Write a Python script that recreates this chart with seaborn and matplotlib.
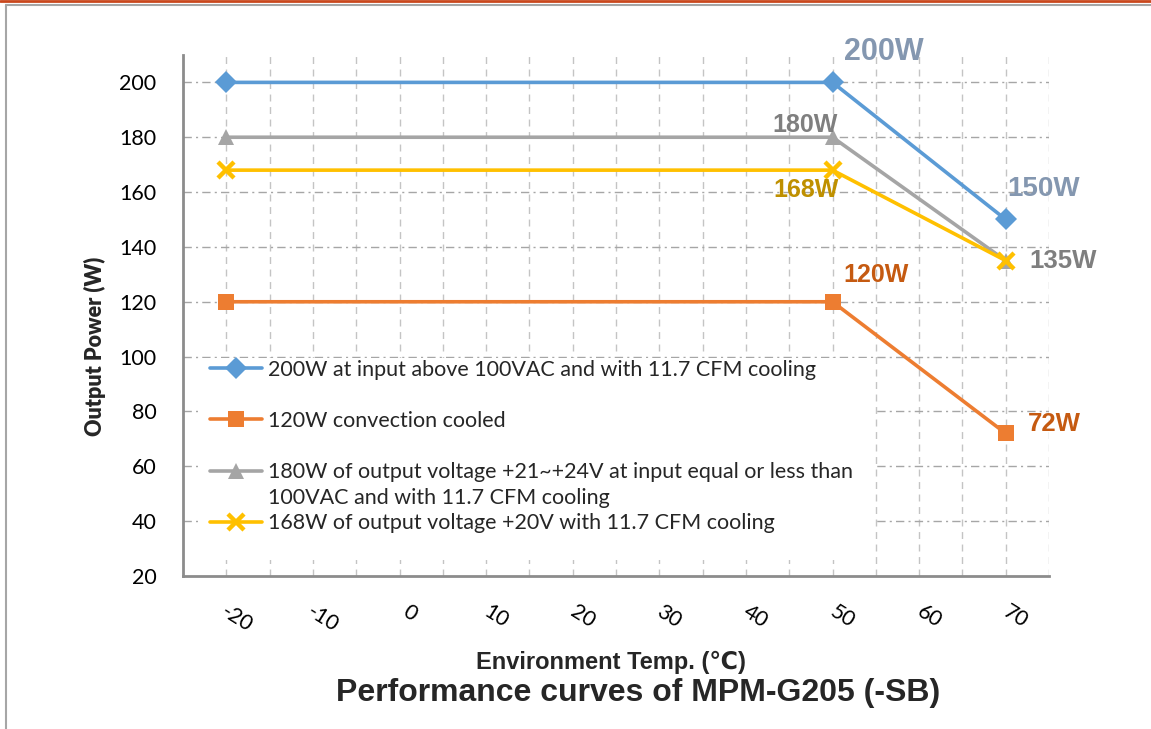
import numpy as np
import pandas as pd
import seaborn as sns
import matplotlib.pyplot as plt
import matplotlib.transforms as mtransforms
from matplotlib.patches import Rectangle

# data
temps = [-20, 50, 70]
p200 = [200, 200, 150]
p120 = [120, 120, 72]
p180 = [180, 180, 135]
p168 = [168, 168, 135]

names = [
    "200W at input above 100VAC and with 11.7 CFM cooling",
    "120W convection cooled",
    "180W of output voltage +21~+24V at input equal or less than",
    "168W of output voltage +20V with 11.7 CFM cooling",
]
extra_line = "100VAC and with 11.7 CFM cooling"
colors = ["#5B9BD5", "#ED7D31", "#A5A5A5", "#FFC000"]
markers = ["D", "s", "^", "X"]
msizes = [11, 11, 11, 12]

xticks = [-20, -10, 0, 10, 20, 30, 40, 50, 60, 70]
yticks = [20, 40, 60, 80, 100, 120, 140, 160, 180, 200]

df = pd.DataFrame({
    "temp": temps * 4,
    "power": p200 + p120 + p180 + p168,
    "curve": np.repeat(names, len(temps)),
})

sns.set_theme(style="white")
plt.rcParams['font.family'] = ['Lato', 'DejaVu Sans']
arial = ["Liberation Sans", "DejaVu Sans"]

fig = plt.figure(figsize=(11.51, 7.29), dpi=100)
ax = fig.add_axes([0.159, 0.2099, 0.7524, 0.7147])

# page frame
fig.add_artist(plt.Line2D([0, 1], [0.9985, 0.9985], transform=fig.transFigure, color="#C9471D", lw=2))
fig.add_artist(plt.Line2D([0.0055, 1], [0.9935, 0.9935], transform=fig.transFigure, color="#A6A6A6", lw=1.5))
fig.add_artist(plt.Line2D([0.0055, 0.0055], [0, 0.9935], transform=fig.transFigure, color="#A6A6A6", lw=1.5))

sns.lineplot(data=df, x="temp", y="power", hue="curve", style="curve",
             hue_order=names, style_order=names, palette=colors,
             markers=markers, dashes=False, linewidth=2.6, markersize=11,
             markeredgewidth=0, legend=False, ax=ax, zorder=3)


def fix_marker(ln, m, ms):
    if m == "X":
        ln.set_marker("x")
        ln.set_markeredgewidth(3.2)
        ln.set_markeredgecolor(ln.get_color())
        ms = ms - 1
    ln.set_markersize(ms)


for ln, m, ms in zip(ax.lines, markers, msizes):
    fix_marker(ln, m, ms)

ax.set_xlim(-25, 75)
ax.set_ylim(20, 210)

# grid
for x in np.arange(-20, 76, 5):
    ax.axvline(x, color="#C4C4C4", lw=1, ls=(0, (5, 4)), zorder=0)
for y in yticks[1:]:
    ax.axhline(y, color="#A6A6A6", lw=1, ls=(0, (6, 3, 1.5, 3)), zorder=0)

# white box behind legend
ax.add_patch(Rectangle((0.0173, 0.031), 0.781, 0.387, transform=ax.transAxes,
                       facecolor="white", edgecolor="none", zorder=1))

handles = []
for c, m, ms in zip(colors, markers, msizes):
    h = plt.Line2D([], [], color=c, marker=m, lw=2.6, markeredgewidth=0)
    fix_marker(h, m, ms)
    handles.append(h)
leg = ax.legend(handles, names, loc="upper left", bbox_to_anchor=(0.031, 0.415),
                frameon=False, fontsize=15.5, handlelength=2.42, handletextpad=0.3,
                labelspacing=1.45, borderpad=0, borderaxespad=0)
leg.set_zorder(4)
ax.text(0.098, 0.1497, extra_line, transform=ax.transAxes, fontsize=15.5,
        va="center", ha="left", zorder=4)

# point labels
notes = [
    (50, 200, "200W", "#8497B0", 22, 37, 22),
    (70, 150, "150W", "#8497B0", 20, 27, 22),
    (50, 180, "180W", "#7F7F7F", 18, -20, 9),
    (70, 135, "135W", "#7F7F7F", 18.5, 41, 0),
    (50, 168, "168W", "#BF9000", 18, -19, -14),
    (50, 120, "120W", "#C55A11", 18, 31, 19),
    (70, 72, "72W", "#C55A11", 18.5, 35, 7),
]
for x, y, txt, c, fs, dx, dy in notes:
    ax.annotate(txt, (x, y), xytext=(dx, dy), textcoords="offset points",
                ha="center", va="center", color=c, fontsize=fs, fontweight="bold",
                family=arial, zorder=5)

ax.set_xticks(xticks)
ax.set_xticklabels([str(v) for v in xticks])
ax.set_yticks(yticks)
ax.tick_params(axis="both", length=0, labelsize=15.5, colors="black")
ax.tick_params(axis="x", pad=18)
ax.tick_params(axis="y", pad=19)
shift = mtransforms.ScaledTranslation(10 / 100, 0, fig.dpi_scale_trans)
for lab in ax.get_xticklabels():
    lab.set_rotation(-32)
    lab.set_ha("center")
    lab.set_transform(lab.get_transform() + shift)

for s in ["top", "right"]:
    ax.spines[s].set_visible(False)
for s in ["left", "bottom"]:
    ax.spines[s].set_color("#8C8C8C")
    ax.spines[s].set_linewidth(2)

ax.set_ylabel("Output Power (W)", fontsize=15.5, fontweight="heavy")
ax.yaxis.set_label_coords(-0.089, 0.441)
ax.set_xlabel("")
fig.text(0.531, 0.092, "Environment Temp. (℃)", ha="center", va="center",
         fontsize=17, fontweight="bold", family=arial)
fig.text(0.554, 0.050, "Performance curves of MPM-G205 (-SB)", ha="center", va="center",
         fontsize=23, fontweight="bold", family=arial)

fig.savefig("out.png", dpi=100)
